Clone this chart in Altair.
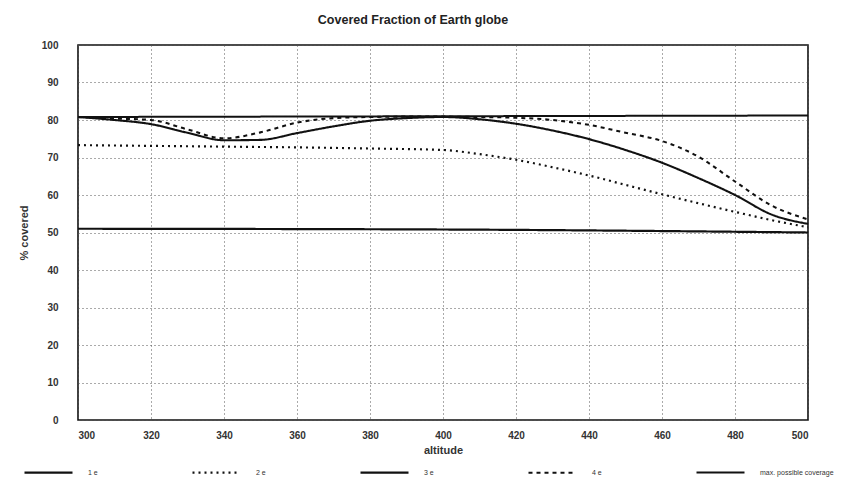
import altair as alt
import pandas as pd

series_names = ["1 e", "2 e", "3 e", "4 e", "max. possible coverage"]

alt_1e = [300, 400, 500]
cov_1e = [51.0, 50.8, 50.0]

alt_2e = [300, 320, 340, 360, 380, 400, 410, 420, 430, 440, 450, 460, 470, 480, 490, 500]
cov_2e = [73.3, 73.1, 72.9, 72.7, 72.4, 72.0, 70.9, 69.4, 67.4, 65.2, 62.7, 60.2, 57.8, 55.5, 53.3, 51.4]

alt_3e = [300, 310, 320, 330, 340, 350, 360, 370, 380, 390, 400,
          410, 420, 430, 440, 450, 460, 470, 480, 490, 500]
cov_3e = [80.8, 80.0, 78.9, 76.6, 74.6, 74.7, 76.5, 78.3, 79.8, 80.5, 80.8,
          80.2, 79.0, 77.2, 74.9, 72.0, 68.6, 64.5, 60.0, 54.8, 52.3]

alt_4e = [300, 310, 320, 330, 340, 350, 360, 370, 380, 390, 400,
          410, 420, 430, 440, 450, 460, 470, 480, 490, 500]
cov_4e = [80.8, 80.4, 80.0, 77.5, 75.1, 76.7, 79.3, 80.5, 80.8, 80.9, 80.9,
          80.8, 80.6, 80.0, 78.7, 76.6, 74.4, 70.2, 63.6, 57.2, 53.5]

alt_max = [300, 400, 500]
cov_max = [80.8, 81.0, 81.2]

x_ticks = [300, 320, 340, 360, 380, 400, 420, 440, 460, 480, 500]
y_ticks = [0, 10, 20, 30, 40, 50, 60, 70, 80, 90, 100]

rows = []
for name, xs, ys in [
    ("1 e", alt_1e, cov_1e),
    ("2 e", alt_2e, cov_2e),
    ("3 e", alt_3e, cov_3e),
    ("4 e", alt_4e, cov_4e),
    ("max. possible coverage", alt_max, cov_max),
]:
    for a, c in zip(xs, ys):
        rows.append({"series": name, "altitude": a, "covered": c})
df = pd.DataFrame(rows)

FONT = "Liberation Sans"

chart = alt.Chart(df).mark_line(interpolate="monotone").encode(
    x=alt.X("altitude:Q",
            scale=alt.Scale(domain=[300, 500], nice=False, zero=False),
            axis=alt.Axis(values=x_ticks, title="altitude", format="d",
                          grid=True, gridDash=[1, 3], gridColor="#555",
                          ticks=False, tickSize=0, labelPadding=10,
                          domain=False, titlePadding=4)),
    y=alt.Y("covered:Q",
            scale=alt.Scale(domain=[0, 100], nice=False),
            axis=alt.Axis(values=y_ticks, title="% covered", format="d",
                          grid=True, gridDash=[1, 3], gridColor="#555",
                          ticks=False, tickSize=0, labelPadding=20,
                          domain=False, titlePadding=12)),
    color=alt.Color("series:N", title=None,
                    scale=alt.Scale(domain=series_names, range=["#111111"] * 5)),
    strokeDash=alt.StrokeDash("series:N", title=None,
                              scale=alt.Scale(domain=series_names,
                                              range=[[1, 0], [2, 4], [1, 0], [4, 4], [1, 0]])),
    strokeWidth=alt.StrokeWidth("series:N", title=None,
                                scale=alt.Scale(domain=series_names,
                                                range=[2.2, 2.0, 1.6, 2.5, 2.6])),
).properties(
    width=730,
    height=375,
    padding={"left": 70, "top": 37, "right": 48, "bottom": 62},
    autosize=alt.AutoSizeParams(type="none"),
    title=alt.TitleParams("Covered Fraction of Earth globe", font=FONT,
                          fontSize=12.5, fontWeight="bold", color="#222",
                          offset=14, dx=-30),
).configure_view(
    stroke="#111", strokeWidth=1.6
).configure_axis(
    labelFont=FONT, labelFontSize=10, labelFontWeight="bold", labelColor="#333",
    titleFont=FONT, titleFontSize=11, titleFontWeight="bold", titleColor="#333",
).configure_legend(
    orient="none", legendX=-55, legendY=402, direction="horizontal", columns=5,
    symbolType="stroke", symbolSize=2304, labelFont=FONT, labelFontSize=7,
    labelColor="#333", labelOffset=14, columnPadding=90, padding=0,
    labelLimit=200,
)

chart.save("out.html", embed_options={"renderer": "svg", "actions": False})
